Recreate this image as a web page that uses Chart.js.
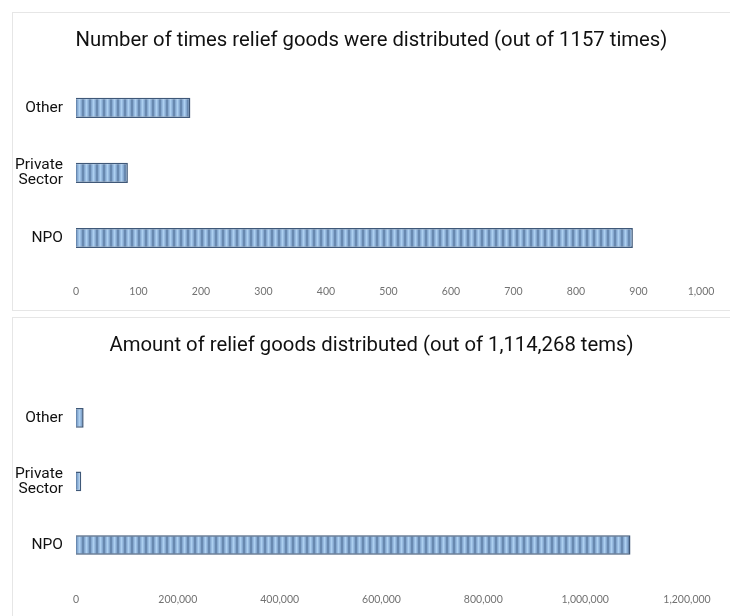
<!DOCTYPE html>
<html>
<head>
<meta charset="utf-8">
<script src="https://cdn.jsdelivr.net/npm/chart.js@4/dist/chart.umd.min.js"></script>
<style>
  html, body { margin: 0; padding: 0; background: #fff; }
  body { width: 730px; height: 616px; position: relative; overflow: hidden; }
  .box { position: absolute; left: 12px; width: 718px; height: 299px;
         border-top: 1px solid #e6e6e6; border-left: 1px solid #e6e6e6; box-sizing: border-box; }
  #boxTop { top: 12px; border-bottom: 1px solid #e6e6e6; }
  #boxBottom { top: 317px; }
  canvas { display: block; }
</style>
</head>
<body>
<div class="box" id="boxTop"><canvas id="timesChart" width="717" height="297"></canvas></div>
<div class="box" id="boxBottom"><canvas id="itemsChart" width="717" height="298"></canvas></div>
<script>
// dados
const categories = ['Other', ['Private', 'Sector'], 'NPO'];
const timesValues = [183, 83, 891]; // vezes (total 1157)
const itemsValues = [15000, 10268, 1089000]; // itens (total 1.114.268)
const timesTitle = 'Number of times relief goods were distributed (out of 1157 times)';
const itemsTitle = 'Amount of relief goods distributed (out of 1,114,268 tems)';
const timesMax = 1000;
const timesStep = 100;
const itemsMax = 1200000;
const itemsStep = 200000;

// padrao listrado das barras
function stripePattern() {
  const c = document.createElement('canvas');
  c.width = 7; c.height = 1;
  const ctx = c.getContext('2d');
  const g = ctx.createLinearGradient(0, 0, 7, 0);
  g.addColorStop(0, '#5a7aa0');
  g.addColorStop(0.25, '#8db0d8');
  g.addColorStop(0.5, '#add0f0');
  g.addColorStop(0.75, '#8db0d8');
  g.addColorStop(1, '#5a7aa0');
  ctx.fillStyle = g;
  ctx.fillRect(0, 0, 7, 1);
  return ctx.createPattern(c, 'repeat');
}

// titulo centrado na largura total do canvas (ignora o padding lateral)
const centerTitle = {
  id: 'centerTitle',
  afterLayout(chart) {
    const t = chart.titleBlock;
    if (!t) return;
    t.left = 0;
    t.right = chart.width;
    t.width = chart.width;
  }
};

function makeChart(id, values, title, max, step, pad) {
  return new Chart(document.getElementById(id), {
    type: 'bar',
    plugins: [centerTitle],
    data: {
      labels: categories,
      datasets: [{
        data: values,
        backgroundColor: stripePattern(),
        borderColor: '#3f5878',
        borderWidth: 1.5,
        barPercentage: 0.31,
        categoryPercentage: 1
      }]
    },
    options: {
      indexAxis: 'y',
      responsive: false,
      animation: false,
      layout: { padding: { left: 0, right: pad.right, top: 0, bottom: 0 } },
      plugins: {
        legend: { display: false },
        tooltip: { enabled: false },
        title: {
          display: true,
          text: title,
          color: '#111',
          font: { family: 'Roboto', size: 20.3, weight: 'normal', lineHeight: 1.2 },
          padding: { top: 16, bottom: pad.titleBottom }
        }
      },
      scales: {
        x: {
          min: 0,
          max: max,
          grid: { display: false, drawTicks: false },
          border: { display: false },
          afterFit: scale => { scale.height = pad.axisHeight; },
          ticks: {
            stepSize: step,
            padding: pad.tickPad,
            maxRotation: 0,
            color: '#727272',
            font: { family: 'Lato', size: 10.5 },
            callback: v => v.toLocaleString('en-US')
          }
        },
        y: {
          grid: { display: false, drawTicks: false },
          border: { display: false },
          afterFit: scale => { scale.width = 63; },
          ticks: {
            padding: 13,
            color: '#111',
            font: { family: 'Roboto', size: 15.5, lineHeight: 0.95 }
          }
        }
      }
    }
  });
}

makeChart('timesChart', timesValues, timesTitle, timesMax, timesStep,
  { right: 29, titleBottom: 22, axisHeight: 39.5, tickPad: 15 });
makeChart('itemsChart', itemsValues, itemsTitle, itemsMax, itemsStep,
  { right: 43, titleBottom: 27.8, axisHeight: 39.25, tickPad: 17 });
</script>
</body>
</html>
